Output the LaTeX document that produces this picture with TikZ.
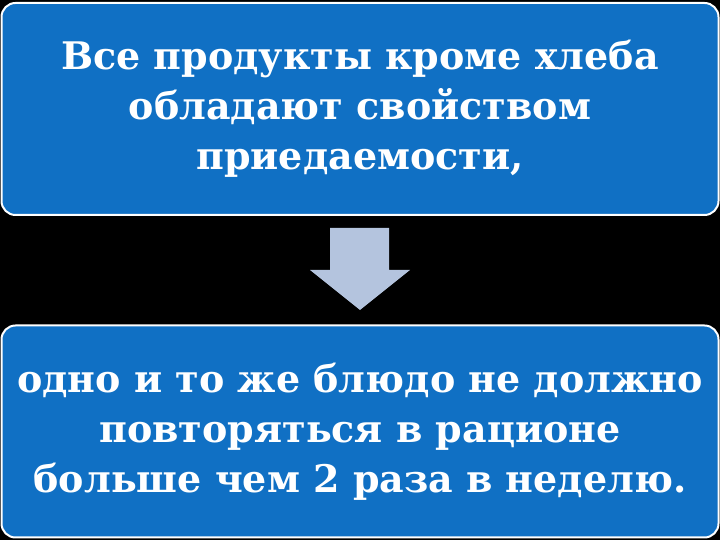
\documentclass[tikz,border=0pt]{standalone}
\usepackage{fontspec}
\setmainfont{DejaVu Serif}
\definecolor{boxblue}{RGB}{16,112,196}
\definecolor{arrowgray}{RGB}{180,196,222}
\tikzset{
	infobox/.style={draw=white, line width=2pt, fill=boxblue, rounded corners=14pt,
		minimum width=717pt, minimum height=212pt, text=white, align=center,
		font=\bfseries\fontsize{38}{50}\selectfont},
}
\begin{document}
\begin{tikzpicture}[x=1pt, y=1pt]
		\fill[black] (0,0) rectangle (720,540);
		\useasboundingbox (0,0) rectangle (720,540);
		\node[infobox] (top) at (360, 431) {Все продукты кроме хлеба\\обладают свойством\\приедаемости,};
		\node[infobox] (bottom) at (360, 108.5) {одно и то же блюдо не должно\\повторяться в рационе\\больше чем 2 раза в неделю.};
		\fill[arrowgray] (330,312) -- (389,312) -- (389,270) -- (410,270) -- (360,230) -- (310,270) -- (330,270) -- cycle;
	\end{tikzpicture}
\end{document}
